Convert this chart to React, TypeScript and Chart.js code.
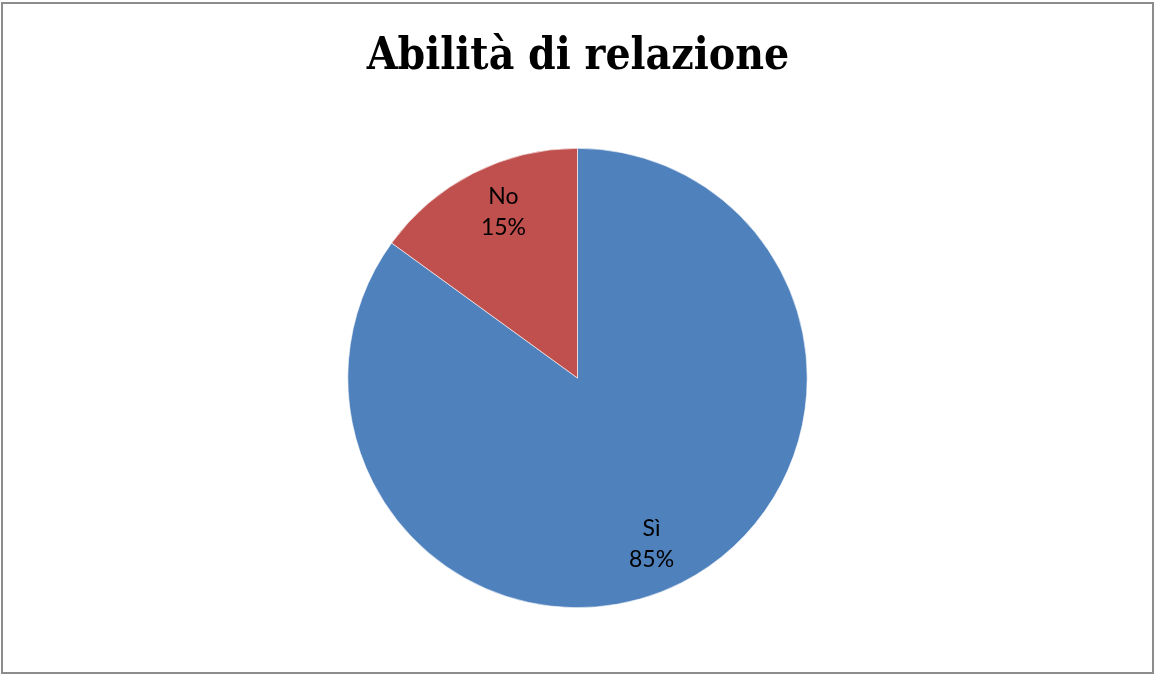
import React, { useEffect, useRef } from "react";
import { Chart, registerables } from "chart.js";

Chart.register(...registerables);

const titleText = "Abilità di relazione";
const categories = ["Sì", "No"];
const values = [85, 15];
const colors = ["#4F81BD", "#C0504D"];

const labelPlugin = {
  id: "sliceLabels",
  afterDatasetsDraw(chart: any) {
    const ctx = chart.ctx;
    const meta = chart.getDatasetMeta(0);
    const total = values.reduce((a, b) => a + b, 0);
    ctx.save();
    ctx.fillStyle = "#000";
    ctx.font = "23px Lato";
    ctx.textAlign = "center";
    ctx.textBaseline = "middle";
    meta.data.forEach((arc: any, i: number) => {
      const mid = (arc.startAngle + arc.endAngle) / 2;
      const x = arc.x + Math.cos(mid) * arc.outerRadius * 0.71;
      const y = arc.y + Math.sin(mid) * arc.outerRadius * 0.81;
      const pct = Math.round((values[i] / total) * 100) + "%";
      ctx.fillText(categories[i], x, y - 15.5);
      ctx.fillText(pct, x, y + 15.5);
    });
    ctx.restore();
  },
};

const framePlugin = {
  id: "frameTitle",
  afterDraw(chart: any) {
    const ctx = chart.ctx;
    ctx.save();
    ctx.strokeStyle = "#8c8c8c";
    ctx.lineWidth = 2;
    ctx.strokeRect(2, 3, 1151, 670);
    ctx.fillStyle = "#000";
    try {
      (ctx as any).fontStretch = "condensed";
    } catch (e) {}
    ctx.font = "bold 44px 'DejaVu Serif Condensed', 'DejaVu Serif'";
    ctx.textAlign = "center";
    ctx.textBaseline = "alphabetic";
    ctx.fillText(titleText, 578, 69);
    ctx.restore();
  },
};

export default function App() {
  const ref = useRef<HTMLCanvasElement>(null);
  useEffect(() => {
    if (!ref.current) return;
    const chart = new Chart(ref.current, {
      type: "pie",
      data: {
        labels: categories,
        datasets: [
          {
            data: values,
            backgroundColor: colors,
            borderColor: "#ffffff",
            borderWidth: 0.6,
          },
        ],
      },
      options: {
        responsive: false,
        animation: false,
        layout: { padding: { top: 148, bottom: 67, left: 0, right: 0 } },
        plugins: {
          legend: { display: false },
          tooltip: { enabled: false },
          title: { display: false },
        },
      },
      plugins: [labelPlugin, framePlugin],
    });
    return () => chart.destroy();
  }, []);
  return (
    <div style={{ position: "absolute", left: 0, top: 0, width: 1155, height: 675, background: "#fff" }}>
      <canvas ref={ref} width={1155} height={675} style={{ display: "block" }} />
    </div>
  );
}
